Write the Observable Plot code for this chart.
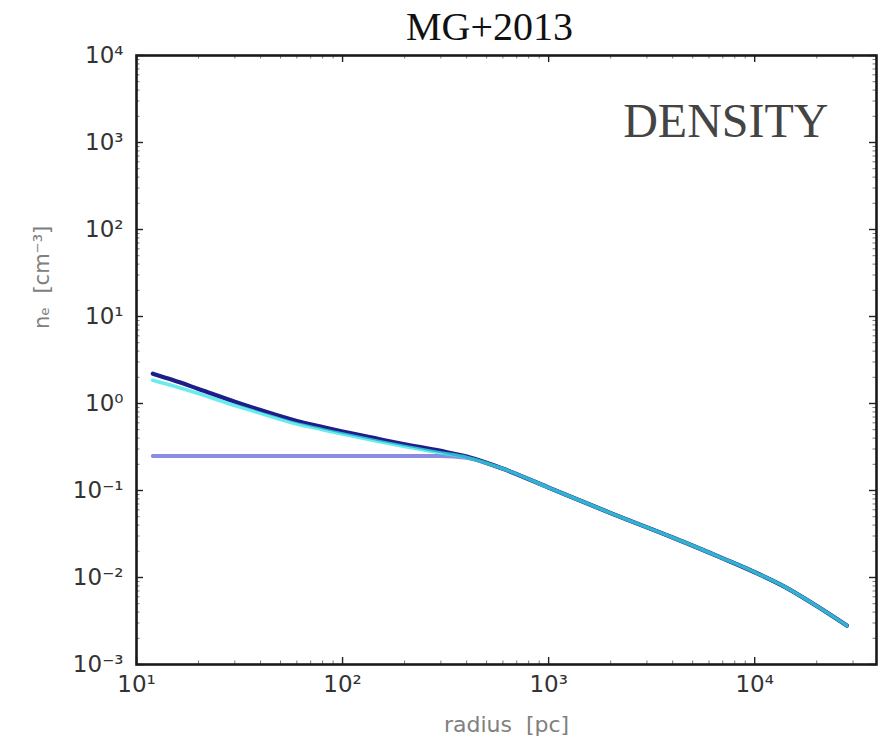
<!DOCTYPE html>
<html><head><meta charset="utf-8">
<script src="https://cdn.jsdelivr.net/npm/d3@7"></script>
<script src="https://cdn.jsdelivr.net/npm/@observablehq/plot@0.6"></script>
<style>body{margin:0;background:#fff}</style>
</head><body><div id="chart"></div>
<script>
// radius [pc]
const radius = [12, 15, 20, 30, 40, 60, 80, 100, 150, 200, 300, 400, 600, 1000, 2000, 4000, 7000, 10000, 14000, 20000, 28000];
// electron density n_e [cm^-3]
const densityNavy = [2.2, 1.86, 1.47, 1.05, 0.84, 0.63, 0.535, 0.475, 0.39, 0.34, 0.285, 0.245, 0.178, 0.108, 0.055, 0.0288, 0.0166, 0.0115, 0.0078, 0.0047, 0.0028];
const densityCyan = [1.85, 1.6, 1.3, 0.95, 0.77, 0.58, 0.50, 0.445, 0.365, 0.32, 0.27, 0.24, 0.178, 0.108, 0.055, 0.0288, 0.0166, 0.0115, 0.0078, 0.0047, 0.0028];
const densityFlat = [0.25, 0.25, 0.25, 0.25, 0.25, 0.25, 0.25, 0.25, 0.25, 0.25, 0.25, 0.238, 0.178, 0.108, 0.055, 0.0288, 0.0166, 0.0115, 0.0078, 0.0047, 0.0028];

const xTicks = [10, 100, 1000, 10000];
const yTicks = [1e-3, 1e-2, 1e-1, 1, 10, 100, 1000, 10000];
const xMinor = [20,30,40,50,60,70,80,90,200,300,400,500,600,700,800,900,2000,3000,4000,5000,6000,7000,8000,9000,20000,30000];
const yMinor = [];
for (const d of [1e-3,1e-2,1e-1,1,10,100,1000]) for (let k = 2; k <= 9; k++) yMinor.push(d * k);

const supMap = {"-":"⁻","0":"⁰","1":"¹","2":"²","3":"³","4":"⁴","5":"⁵","6":"⁶","7":"⁷","8":"⁸","9":"⁹"};
const fmt = d => "10" + String(Math.round(Math.log10(d))).split("").map(c => supMap[c]).join("");

const rows = (vals, s) => radius.map((r, i) => ({r, n: vals[i], s}));

const W = 888, H = 742, ML = 136, MR = 12, MT = 55, MB = 78;
const FW = W - ML - MR, FH = H - MT - MB;
const lblStyle = {fontSize: 23, fill: "#333", fontFamily: "DejaVu Sans"};

const chart = Plot.plot({
  width: W, height: H,
  marginLeft: ML, marginRight: MR, marginTop: MT, marginBottom: MB,
  style: {background: "#fff"},
  x: {type: "log", domain: [10, 39000]},
  y: {type: "log", domain: [1e-3, 1e4]},
  marks: [
    Plot.line(rows(densityFlat, "flat"), {x: "r", y: "n", stroke: "#8c8ce0", strokeWidth: 4, curve: "monotone-x"}),
    Plot.line(rows(densityNavy, "navy"), {x: "r", y: "n", stroke: "#1e1e8a", strokeWidth: 4.2, curve: "monotone-x"}),
    Plot.line(rows(densityCyan, "cyan"), {x: "r", y: "n", stroke: "#38e6e6", strokeWidth: 3.6, strokeOpacity: 0.75, curve: "monotone-x"}),
    // tick labels
    Plot.axisY({anchor: "left", ticks: yTicks, tickFormat: fmt, tickSize: 0, tickPadding: 13, label: null, ...lblStyle}),
    Plot.axisX({anchor: "bottom", ticks: xTicks, tickFormat: fmt, tickSize: 0, tickPadding: 11, label: null, ...lblStyle}),
    // inward major ticks (all four sides)
    Plot.tickY(yTicks, {y: d => d, insetRight: FW - 7, stroke: "#222", strokeWidth: 1.4}),
    Plot.tickY(yTicks, {y: d => d, insetLeft: FW - 7, stroke: "#222", strokeWidth: 1.4}),
    Plot.tickX(xTicks, {x: d => d, insetTop: FH - 7, stroke: "#222", strokeWidth: 1.4}),
    Plot.tickX(xTicks, {x: d => d, insetBottom: FH - 7, stroke: "#222", strokeWidth: 1.4}),
    // inward minor ticks
    Plot.tickY(yMinor, {y: d => d, insetRight: FW - 3.5, stroke: "#555", strokeWidth: 0.8}),
    Plot.tickY(yMinor, {y: d => d, insetLeft: FW - 3.5, stroke: "#555", strokeWidth: 0.8}),
    Plot.tickX(xMinor, {x: d => d, insetTop: FH - 3.5, stroke: "#555", strokeWidth: 0.8}),
    Plot.tickX(xMinor, {x: d => d, insetBottom: FH - 3.5, stroke: "#555", strokeWidth: 0.8}),
    Plot.frame({stroke: "#1a1a1a", strokeWidth: 2.6}),
    // texts
    Plot.text(["MG+2013"], {frameAnchor: "top", dx: -17, dy: -16, lineAnchor: "bottom", fontSize: 40, fontFamily: "Liberation Serif", fill: "#111"}),
    Plot.text(["DENSITY"], {frameAnchor: "top-right", textAnchor: "end", dx: -48, dy: 81, lineAnchor: "bottom", fontSize: 48, fontFamily: "Liberation Serif", fill: "#444"}),
    Plot.text(["radius  [pc]"], {frameAnchor: "bottom", dx: 0, dy: 60, lineAnchor: "middle", fontSize: 22, fontFamily: "DejaVu Sans", fill: "#808080"}),
    Plot.text(["nₑ  [cm⁻³]"], {frameAnchor: "left", dx: -94, dy: -31, rotate: -90, lineAnchor: "middle", fontSize: 21, fontFamily: "DejaVu Sans", fill: "#808080"})
  ]
});
document.getElementById("chart").appendChild(chart);
</script>
</body></html>
